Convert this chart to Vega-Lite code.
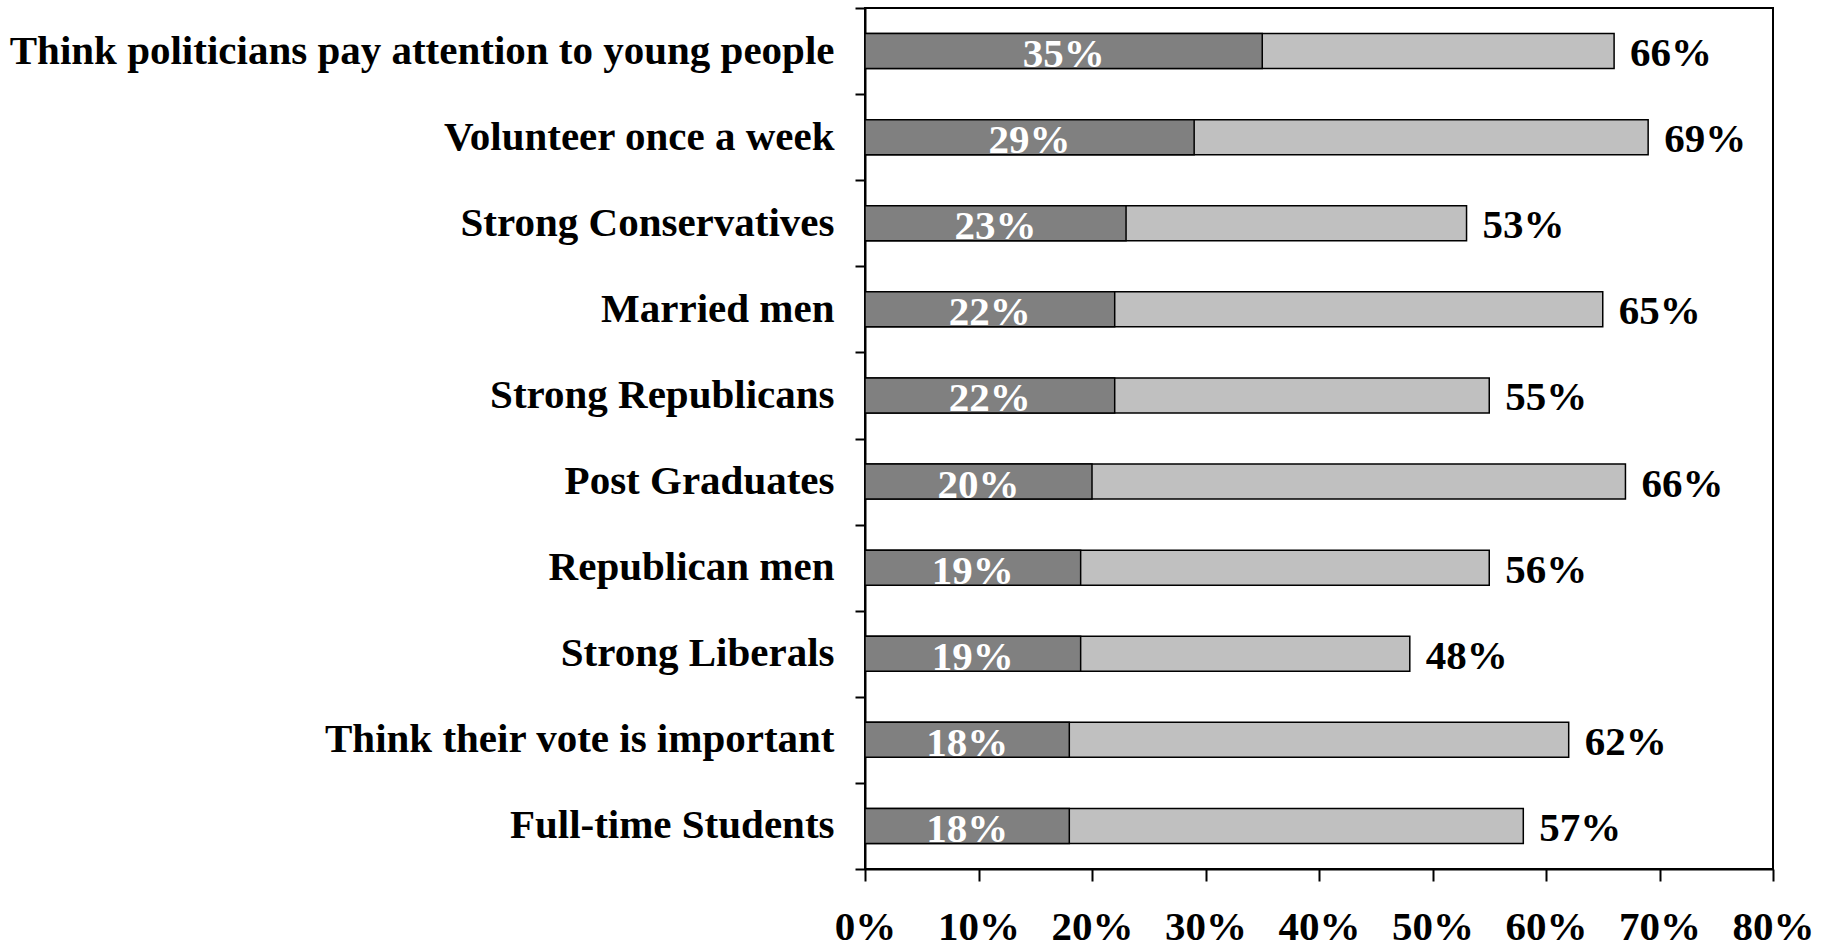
{
  "$schema": "https://vega.github.io/schema/vega-lite/v6.json",
  "width": 908,
  "height": 861,
  "autosize": {"type": "none"},
  "padding": {"left": 865, "top": 8, "right": 64, "bottom": 79},
  "background": "white",
  "config": {
    "view": {"stroke": "black", "strokeWidth": 2},
    "font": "Liberation Serif",
    "axis": {
      "labelFont": "Liberation Serif",
      "labelFontWeight": "bold",
      "labelFontSize": 41,
      "labelColor": "black",
      "domainColor": "black",
      "domainWidth": 2,
      "tickColor": "black",
      "tickWidth": 2,
      "grid": false,
      "title": null
    }
  },
  "data": {
    "values": [
      {"group": "Think politicians pay attention to young people", "low": 35, "high": 66, "lowLabel": "35%", "highLabel": "66%"},
      {"group": "Volunteer once a week", "low": 29, "high": 69, "lowLabel": "29%", "highLabel": "69%"},
      {"group": "Strong Conservatives", "low": 23, "high": 53, "lowLabel": "23%", "highLabel": "53%"},
      {"group": "Married men", "low": 22, "high": 65, "lowLabel": "22%", "highLabel": "65%"},
      {"group": "Strong Republicans", "low": 22, "high": 55, "lowLabel": "22%", "highLabel": "55%"},
      {"group": "Post Graduates", "low": 20, "high": 67, "lowLabel": "20%", "highLabel": "66%"},
      {"group": "Republican men", "low": 19, "high": 55, "lowLabel": "19%", "highLabel": "56%"},
      {"group": "Strong Liberals", "low": 19, "high": 48, "lowLabel": "19%", "highLabel": "48%"},
      {"group": "Think their vote is important", "low": 18, "high": 62, "lowLabel": "18%", "highLabel": "62%"},
      {"group": "Full-time Students", "low": 18, "high": 58, "lowLabel": "18%", "highLabel": "57%"}
    ]
  },
  "transform": [{"calculate": "datum.low / 2", "as": "mid"}],
  "encoding": {
    "y": {
      "field": "group",
      "type": "nominal",
      "sort": null,
      "scale": {"paddingInner": 0, "paddingOuter": 0},
      "axis": {
        "tickBand": "extent",
        "tickSize": 10,
        "labelPadding": 21,
        "labelLimit": 1000
      }
    }
  },
  "layer": [
    {
      "mark": {"type": "bar", "color": "#C0C0C0", "stroke": "black", "strokeWidth": 1.5, "size": 35},
      "encoding": {
        "x": {
          "field": "high",
          "type": "quantitative",
          "scale": {"domain": [0, 80], "nice": false},
          "axis": {
            "values": [0, 10, 20, 30, 40, 50, 60, 70, 80],
            "labelExpr": "datum.value + '%'",
            "tickSize": 12,
            "labelPadding": 26,
            "labelFlush": false,
            "labelOverlap": false
          }
        }
      }
    },
    {
      "mark": {"type": "bar", "color": "#808080", "stroke": "black", "strokeWidth": 1.5, "size": 35},
      "encoding": {
        "x": {"field": "low", "type": "quantitative"}
      }
    },
    {
      "mark": {"type": "text", "color": "white", "font": "Liberation Serif", "fontWeight": "bold", "fontSize": 41, "align": "center", "baseline": "alphabetic", "dy": 16},
      "encoding": {
        "x": {"field": "mid", "type": "quantitative"},
        "text": {"field": "lowLabel"}
      }
    },
    {
      "mark": {"type": "text", "color": "black", "font": "Liberation Serif", "fontWeight": "bold", "fontSize": 41, "align": "left", "baseline": "alphabetic", "dy": 15, "dx": 16},
      "encoding": {
        "x": {"field": "high", "type": "quantitative"},
        "text": {"field": "highLabel"}
      }
    }
  ]
}
